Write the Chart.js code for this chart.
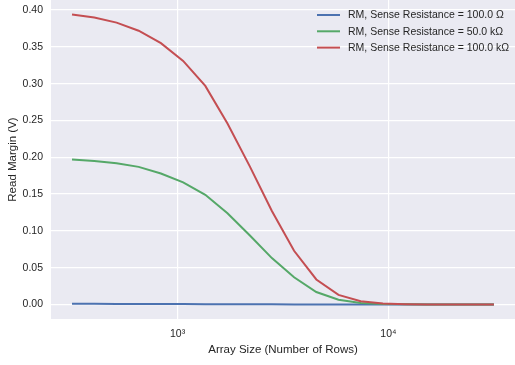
<!DOCTYPE html>
<html>
<head>
<meta charset="utf-8">
<script src="https://cdn.jsdelivr.net/npm/chart.js@4"></script>
<style>
  body { margin: 0; background: #fff; }
  #wrap { width: 515px; height: 365px; }
</style>
</head>
<body>
<div id="wrap"><canvas id="myChart" width="515" height="365"></canvas></div>
<script>
// array sizes (rows), log-spaced
const rows = [316, 403, 514, 654, 834, 1063, 1354, 1725, 2198, 2801,
              3569, 4549, 5796, 7386, 9412, 11993, 15283, 19475, 24816, 31623];

const rm100 = [0.0009, 0.0009, 0.0008, 0.0008, 0.0007, 0.0006, 0.0005, 0.0004, 0.0003, 0.0002,
               0.0001, 0.0001, 0, 0, 0, 0, 0, 0, 0, 0];
const rm50k = [0.197, 0.195, 0.192, 0.187, 0.178, 0.166, 0.149, 0.124, 0.094, 0.063,
               0.037, 0.017, 0.0065, 0.0022, 0.0006, 0.0002, 0.0001, 0, 0, 0];
const rm100k = [0.394, 0.390, 0.383, 0.372, 0.355, 0.331, 0.297, 0.246, 0.188, 0.127,
                0.073, 0.034, 0.013, 0.0045, 0.0013, 0.0004, 0.0001, 0, 0, 0];

const seriesNames = ["RM, Sense Resistance = 100.0 Ω", "RM, Sense Resistance = 50.0 kΩ", "RM, Sense Resistance = 100.0 kΩ"];
const seriesColors = ["#4C72B0", "#55A868", "#C44E52"];

const yTicks = [0, 0.05, 0.10, 0.15, 0.20, 0.25, 0.30, 0.35, 0.40];
const xTicks = [1000, 10000];
const xTickText = {1000: "10³", 10000: "10⁴"};

const FONT = "'Liberation Sans', Arial, sans-serif";
const INK = "#262626";

function pts(ys) {
  return rows.map((r, i) => ({x: r, y: ys[i]}));
}

// grey plot background
const plotBg = {
  id: "plotBg",
  beforeDraw(chart) {
    const {ctx, chartArea: a} = chart;
    ctx.save();
    ctx.fillStyle = "#EAEAF2";
    ctx.fillRect(a.left, a.top, a.right - a.left, a.bottom - a.top);
    ctx.restore();
  }
};

// frameless legend in the upper right corner
const cornerLegend = {
  id: "cornerLegend",
  afterDraw(chart) {
    const {ctx, chartArea: a} = chart;
    ctx.save();
    ctx.font = "10.5px " + FONT;
    ctx.textBaseline = "middle";
    const x0 = a.right - 198;
    chart.data.datasets.forEach((ds, i) => {
      const y = a.top + 15 + i * 16.3;
      ctx.strokeStyle = ds.borderColor;
      ctx.lineWidth = 2;
      ctx.beginPath();
      ctx.moveTo(x0, y);
      ctx.lineTo(x0 + 23, y);
      ctx.stroke();
      ctx.fillStyle = INK;
      ctx.fillText(ds.label, x0 + 31, y + 0.5);
    });
    ctx.restore();
  }
};

// fixed axis sizes, no extra room reserved for edge labels
function fixSize(prop, size) {
  return s => {
    s[prop] = size;
    s.paddingTop = 0;
    s.paddingBottom = 0;
    s.paddingLeft = 0;
    s.paddingRight = 0;
  };
}

new Chart("myChart", {
  type: "line",
  data: {
    datasets: [
      {label: seriesNames[0], data: pts(rm100), borderColor: seriesColors[0], order: 2},
      {label: seriesNames[1], data: pts(rm50k), borderColor: seriesColors[1], order: 1},
      {label: seriesNames[2], data: pts(rm100k), borderColor: seriesColors[2], order: 0}
    ]
  },
  options: {
    responsive: false,
    animation: false,
    layout: {padding: 0},
    elements: {
      line: {borderWidth: 2, tension: 0, fill: false},
      point: {radius: 0}
    },
    plugins: {legend: {display: false}, tooltip: {enabled: false}},
    scales: {
      x: {
        type: "logarithmic",
        min: 251.2,
        max: 39811,
        afterFit: fixSize("height", 46),
        afterBuildTicks(s) { s.ticks = xTicks.map(v => ({value: v, major: true})); },
        grid: {color: "#fff", lineWidth: 1.2, drawTicks: false},
        border: {display: false},
        ticks: {
          autoSkip: false,
          maxRotation: 0,
          padding: 9,
          color: INK,
          font: {family: FONT, size: 10.5},
          callback: v => xTickText[v] || ""
        },
        title: {
          display: true,
          text: "Array Size (Number of Rows)",
          color: INK,
          font: {family: FONT, size: 11.5},
          padding: {bottom: 8}
        }
      },
      y: {
        min: -0.0197,
        max: 0.4137,
        afterFit: fixSize("width", 51),
        afterBuildTicks(s) { s.ticks = yTicks.map(v => ({value: v})); },
        grid: {color: "#fff", lineWidth: 1.2, drawTicks: false},
        border: {display: false},
        ticks: {
          padding: 8,
          color: INK,
          font: {family: FONT, size: 10.5},
          callback: v => v.toFixed(2)
        },
        title: {
          display: true,
          text: "Read Margin (V)",
          color: INK,
          font: {family: FONT, size: 11.5},
          padding: {top: 6}
        }
      }
    }
  },
  plugins: [plotBg, cornerLegend]
});
</script>
</body>
</html>
